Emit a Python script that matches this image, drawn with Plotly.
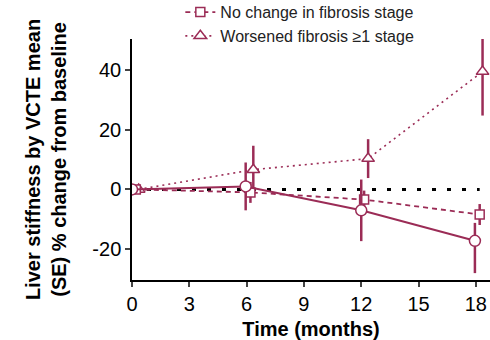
import plotly.graph_objects as go

months = [0, 6, 12, 18]
x_improved = [0, 5.95, 12.0, 17.95]
x_nochange = [0.2, 6.2, 12.15, 18.2]
x_worsened = [0.35, 6.35, 12.36, 18.35]

improved = [0, 1.0, -7.0, -17.2]
improved_plus = [0, 8.0, 10.3, 6.0]
improved_minus = [0, 8.0, 10.3, 10.8]

nochange = [0, -1.0, -3.4, -8.4]
nochange_err = [0, 3.5, 3.0, 3.5]

worsened = [0, 6.6, 10.3, 39.4]
worsened_err = [0, 8.0, 6.5, 14.7]

xticks = [0, 3, 6, 9, 12, 15, 18]
yticks = [-20, 0, 20, 40]
yticklabels = ["-20", "0", "20", "40"]

COL = "#9B2C56"

fig = go.Figure()

fig.add_shape(type="line", xref="x", yref="y", x0=0, x1=18.2, y0=0, y1=0,
              line=dict(color="black", width=3, dash="4px,11px"), layer="below")

fig.add_trace(go.Scatter(
    x=x_worsened, y=worsened, name="Worsened fibrosis ≥1 stage",
    mode="lines+markers",
    line=dict(color=COL, width=1.6, dash="2px,4px"),
    marker=dict(symbol="triangle-up", size=11, color="white", line=dict(color=COL, width=1.5)),
    error_y=dict(type="data", array=worsened_err, color=COL, thickness=2.5, width=0),
))
fig.add_trace(go.Scatter(
    x=x_nochange, y=nochange, name="No change in fibrosis stage",
    mode="lines+markers",
    line=dict(color=COL, width=1.8, dash="5px,4px"),
    marker=dict(symbol="square", size=9, color="white", line=dict(color=COL, width=1.5)),
    error_y=dict(type="data", array=nochange_err, color=COL, thickness=2.5, width=0),
))
fig.add_trace(go.Scatter(
    x=x_improved, y=improved, name="Improved fibrosis ≥1 stage",
    mode="lines+markers", showlegend=False,
    line=dict(color=COL, width=2),
    marker=dict(symbol="circle", size=11, color="white", line=dict(color=COL, width=1.5)),
    error_y=dict(type="data", symmetric=False, array=improved_plus, arrayminus=improved_minus,
                 color=COL, thickness=2.5, width=0),
))

fig.update_layout(
    width=490, height=340,
    margin=dict(l=132, r=0, t=39, b=60, autoexpand=False),
    paper_bgcolor="white", plot_bgcolor="white",
    font=dict(family="Liberation Sans, Arial, sans-serif", color="black", size=20),
    showlegend=True,
    legend=dict(x=0.135, y=1.182, xanchor="left", yanchor="top",
                traceorder="reversed",
                font=dict(size=16, color="#222"), bgcolor="rgba(0,0,0,0)",
                tracegroupgap=0, itemwidth=30),
    xaxis=dict(range=[0, 18.74], tickvals=xticks, ticks="outside", ticklen=5, tickwidth=1.5,
               showline=True, linecolor="black", linewidth=1.5, showgrid=False, zeroline=False,
               title=dict(text="<b>Time (months)</b>", font=dict(size=20), standoff=9),
               tickfont=dict(size=20)),
    yaxis=dict(range=[-30.3, 50.3], tickvals=yticks, ticktext=yticklabels,
               ticks="outside", ticklen=5, tickwidth=1.5,
               showline=True, linecolor="black", linewidth=1.5, showgrid=False, zeroline=False,
               title=dict(text="<b>Liver stiffness by VCTE mean<br>(SE) % change from baseline</b>",
                          font=dict(size=20), standoff=20),
               tickfont=dict(size=20)),
)

fig.write_html("out.html")
